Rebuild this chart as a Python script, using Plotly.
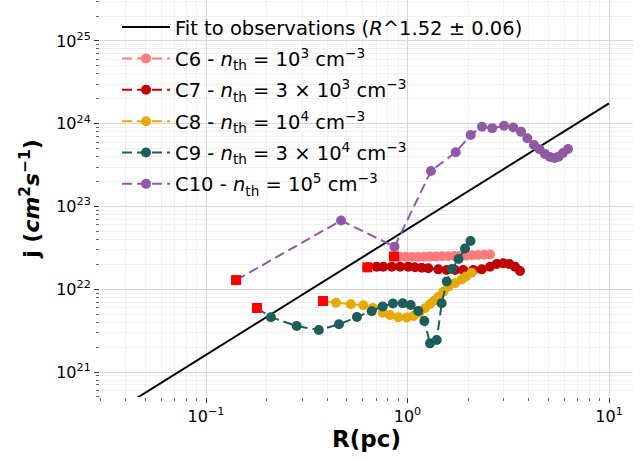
import plotly.graph_objects as go

# ---- data ----
fit_slope = 1.52
fit_amp = 5.33e22
fit_R = [0.03, 10.0]

c6_R = [0.857, 0.918, 0.983, 1.053, 1.127, 1.207, 1.293, 1.385, 1.483, 1.589, 1.701, 1.822, 1.951, 2.090, 2.238, 2.397, 2.567]
c6_j = [2.49e22, 2.47e22, 2.47e22, 2.46e22, 2.46e22, 2.47e22, 2.48e22, 2.49e22, 2.50e22, 2.51e22, 2.52e22, 2.53e22, 2.55e22, 2.57e22, 2.59e22, 2.61e22, 2.63e22]

c7_R = [0.632, 0.703, 0.758, 0.835, 0.918, 1.009, 1.089, 1.176, 1.268, 1.422, 1.565, 1.721, 1.892, 2.121, 2.334, 2.567, 2.771, 2.988, 3.200, 3.416, 3.617]
c7_j = [1.84e22, 1.87e22, 1.87e22, 1.87e22, 1.87e22, 1.87e22, 1.84e22, 1.82e22, 1.79e22, 1.74e22, 1.71e22, 1.71e22, 1.71e22, 1.71e22, 1.74e22, 1.87e22, 2.02e22, 2.06e22, 2.02e22, 1.87e22, 1.66e22]

c8_R = [0.381, 0.442, 0.523, 0.604, 0.674, 0.753, 0.819, 0.900, 0.991, 1.069, 1.144, 1.221, 1.293, 1.354, 1.422, 1.505, 1.594, 1.721, 1.858, 1.951, 2.083]
c8_j = [7.21e21, 6.88e21, 6.58e21, 6.40e21, 5.94e21, 5.21e21, 4.89e21, 4.58e21, 4.56e21, 4.75e21, 5.21e21, 5.89e21, 6.63e21, 7.27e21, 8.13e21, 9.34e21, 1.074e22, 1.18e22, 1.312e22, 1.426e22, 1.585e22]

c9_R = [0.179, 0.210, 0.282, 0.363, 0.457, 0.561, 0.664, 0.753, 0.847, 0.947, 1.037, 1.131, 1.212, 1.293, 1.396, 1.478, 1.565, 1.663, 1.791, 1.929, 2.054]
c9_j = [5.94e21, 4.58e21, 3.60e21, 3.22e21, 3.77e21, 4.62e21, 5.41e21, 6.19e21, 6.73e21, 6.76e21, 6.45e21, 5.46e21, 4.13e21, 2.22e21, 2.44e21, 6.76e21, 1.241e22, 1.757e22, 2.32e22, 3.11e22, 3.83e22]

c10_R = [0.141, 0.468, 0.862, 1.308, 1.735, 2.059, 2.343, 2.633, 3.012, 3.351, 3.659, 3.931, 4.244, 4.520, 4.813, 5.096, 5.364, 5.615, 5.911, 6.258]
c10_j = [1.29e22, 6.77e22, 3.27e22, 2.685e23, 4.52e23, 7.31e23, 9.21e23, 8.84e23, 9.45e23, 9.01e23, 8.02e23, 6.67e23, 5.54e23, 4.91e23, 4.31e23, 3.96e23, 3.86e23, 4.00e23, 4.43e23, 4.95e23]

series_names = [
    "C6 - <i>n</i><sub>th</sub> = 10<sup>3</sup> cm<sup>−3</sup>",
    "C7 - <i>n</i><sub>th</sub> = 3 × 10<sup>3</sup> cm<sup>−3</sup>",
    "C8 - <i>n</i><sub>th</sub> = 10<sup>4</sup> cm<sup>−3</sup>",
    "C9 - <i>n</i><sub>th</sub> = 3 × 10<sup>4</sup> cm<sup>−3</sup>",
    "C10 - <i>n</i><sub>th</sub> = 10<sup>5</sup> cm<sup>−3</sup>",
]
series_colors = ["#ff7b7b", "#c00000", "#e5a90a", "#1b5e5a", "#8f5aa3"]
fit_name = "Fit to observations (<i>R</i>^1.52 ± 0.06)"

x_tickvals = [0.1, 1, 10]
x_ticktext = ["10<sup>−1</sup>", "10<sup>0</sup>", "10<sup>1</sup>"]
y_tickvals = [1e21, 1e22, 1e23, 1e24, 1e25]
y_ticktext = ["10<sup>21</sup>", "10<sup>22</sup>", "10<sup>23</sup>", "10<sup>24</sup>", "10<sup>25</sup>"]

FONT = "DejaVu Sans"

fig = go.Figure()
fit_j = [fit_amp * r ** fit_slope for r in fit_R]
fig.add_trace(go.Scatter(x=fit_R, y=fit_j, mode="lines", name=fit_name,
                         line=dict(color="black", width=2), legendgroup="fit"))

all_R = [c6_R, c7_R, c8_R, c9_R, c10_R]
all_j = [c6_j, c7_j, c8_j, c9_j, c10_j]
for i, (R, j) in enumerate(zip(all_R, all_j)):
    fig.add_trace(go.Scatter(x=R, y=j, mode="lines+markers", name=series_names[i],
                             legendgroup="g%d" % i,
                             line=dict(color=series_colors[i], width=2, dash="10px,5px"),
                             marker=dict(color=series_colors[i], size=10, symbol="circle")))
# red squares marking the first point of each series
fig.add_trace(go.Scatter(x=[R[0] for R in all_R], y=[j[0] for j in all_j], mode="markers",
                         showlegend=False,
                         marker=dict(color="#ff0000", size=10, symbol="square")))

minor_x = [m * 10.0 ** e for e in range(-2, 2) for m in range(2, 10)]
minor_y = [m * 10.0 ** e for e in range(20, 26) for m in range(2, 10)]

fig.update_layout(
    width=641, height=461,
    margin=dict(l=100, r=8, t=0, b=64),
    paper_bgcolor="white", plot_bgcolor="white",
    font=dict(family=FONT, color="black", size=16),
    showlegend=True,
    legend=dict(x=0.032, y=0.98, xanchor="left", yanchor="top",
                bgcolor="rgba(0,0,0,0)", font=dict(size=19.5, family=FONT),
                tracegroupgap=3, itemwidth=48),
)
fig.update_xaxes(type="log", range=[-1.526, 1.119],
                 tickmode="array", tickvals=x_tickvals, ticktext=x_ticktext,
                 ticks="outside", ticklen=5, tickcolor="#333", showline=False, zeroline=False,
                 showgrid=True, gridcolor="#d8d8d8", gridwidth=1,
                 tickfont=dict(size=16),
                 minor=dict(tickmode="array", tickvals=minor_x, ticks="outside", ticklen=3,
                            tickcolor="#666", showgrid=True, gridcolor="#efefef"),
                 title=dict(text="<b>R(pc)</b>", font=dict(size=23), standoff=5))
fig.update_yaxes(type="log", range=[20.698, 25.495],
                 tickmode="array", tickvals=y_tickvals, ticktext=y_ticktext,
                 ticks="outside", ticklen=5, tickcolor="#333", showline=False, zeroline=False,
                 showgrid=True, gridcolor="#d8d8d8", gridwidth=1,
                 tickfont=dict(size=16),
                 minor=dict(tickmode="array", tickvals=minor_y, ticks="outside", ticklen=3,
                            tickcolor="#666", showgrid=True, gridcolor="#efefef"),
                 title=dict(text="<b>j (<i>cm</i><sup>2</sup><i>s</i><sup>−1</sup>)</b>",
                            font=dict(size=22), standoff=10))

fig.write_html("out.html")
